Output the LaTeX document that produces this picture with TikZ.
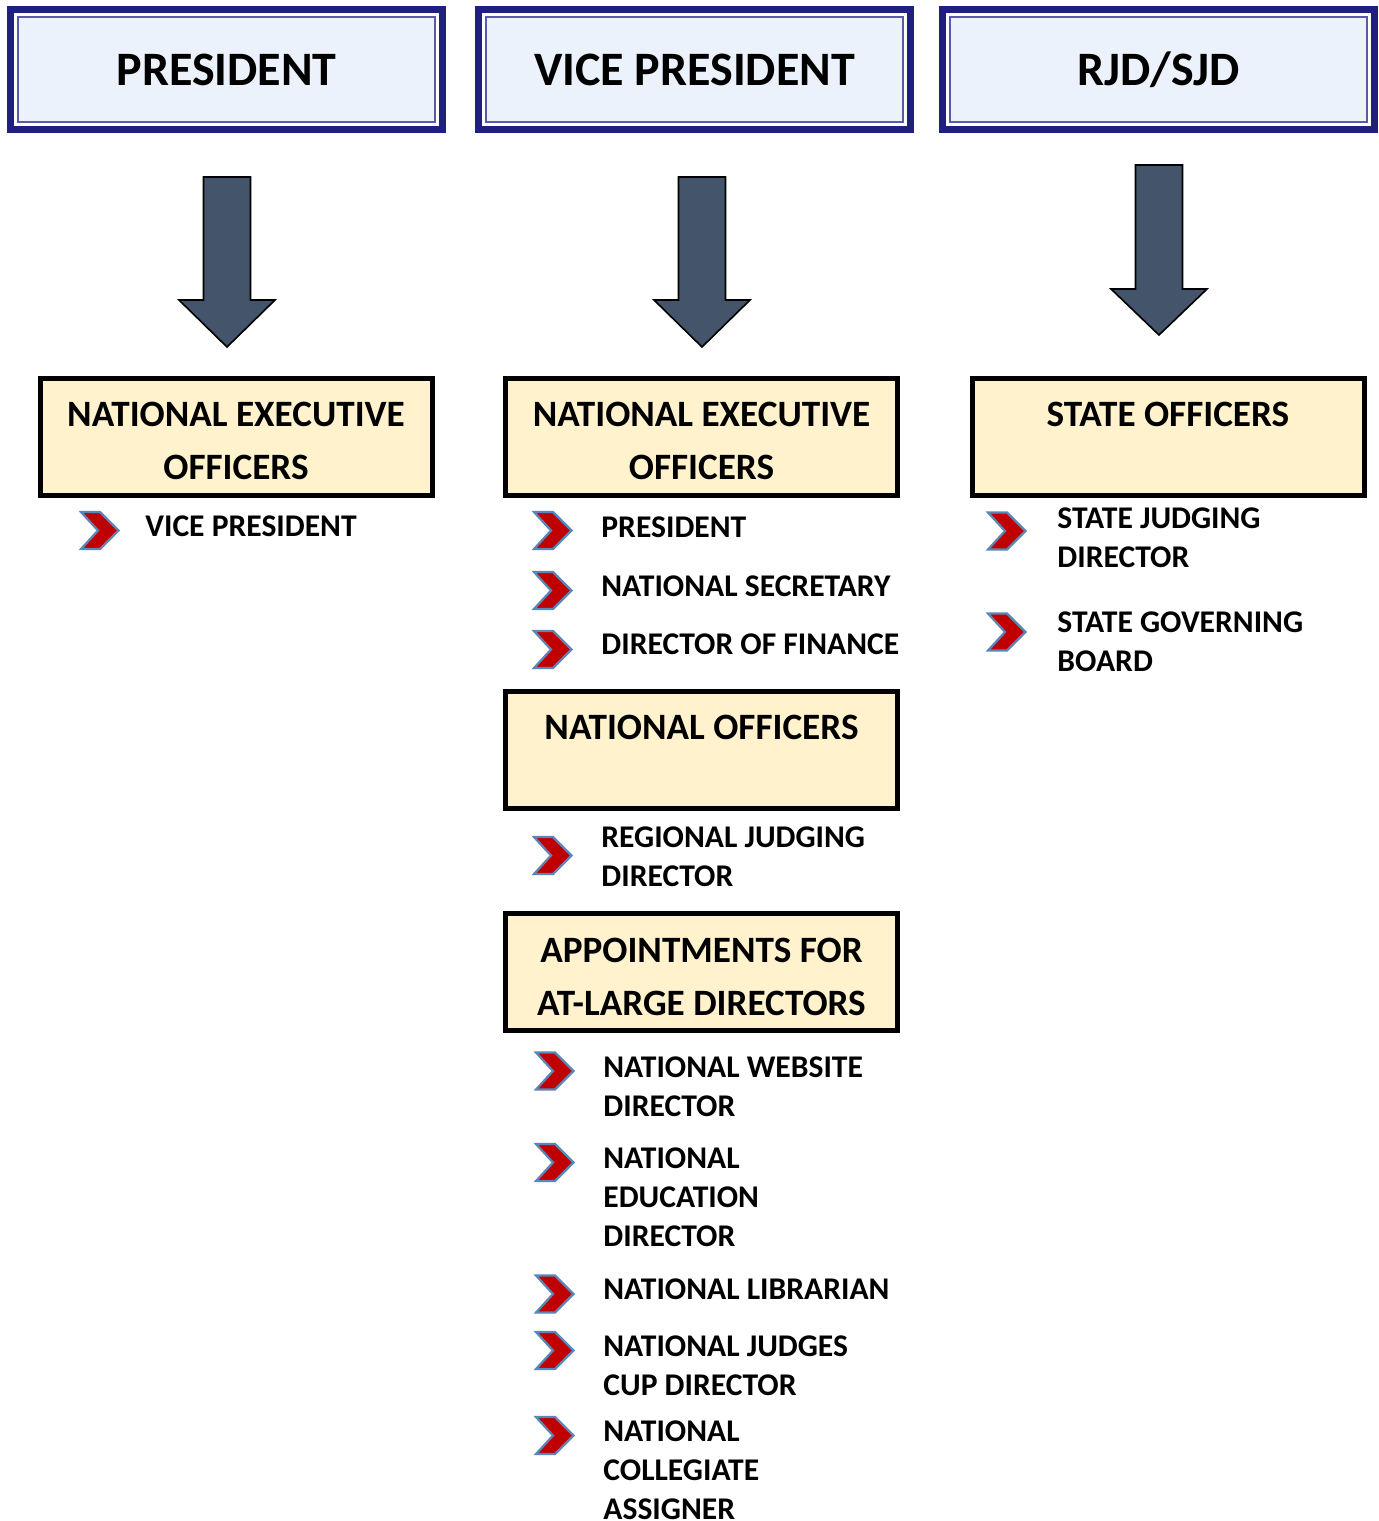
\documentclass[tikz,border=0pt]{standalone}
\usepackage{fontspec}
\setmainfont{Carlito}
\usetikzlibrary{calc}

\definecolor{navy}{HTML}{1F1F80}
\definecolor{navythin}{HTML}{5A5AA8}
\definecolor{hdrfill}{HTML}{EBF2FB}
\definecolor{boxfill}{HTML}{FFF2CC}
\definecolor{slate}{HTML}{44546A}
\definecolor{chevred}{HTML}{C00000}
\definecolor{chevblue}{HTML}{5B87B8}

% down-pointing block arrow: centre x, top, shoulder, tip
\newcommand\downblock[4]{%
  \filldraw[blockarrow] (#1-23.5,#2) -- (#1+23.5,#2) -- (#1+23.5,#3) -- (#1+48,#3)
    -- (#1,#4) -- (#1-48,#3) -- (#1-23.5,#3) -- cycle;}

\tikzset{
  hdr/.style={draw=navy, line width=3.6pt, fill=white, outer sep=0pt, inner sep=0pt,
    minimum width=216pt, minimum height=60pt,
    font=\fontsize{24}{28}\selectfont\bfseries,
    path picture={\draw[hdrline]
      ($(path picture bounding box.north west)+(7.5,7.5)$) rectangle
      ($(path picture bounding box.south east)+(-7.5,-7.5)$);}},
  hdrline/.style={draw=navythin, line width=0.7pt, fill=hdrfill},
  offbox/.style={draw=black, line width=2.5pt, fill=boxfill, outer sep=0pt, inner sep=0pt,
    minimum width=196pt, minimum height=58.5pt},
  boxtext/.style={font=\fontsize{18.6}{26.5}\selectfont\bfseries, align=center,
    inner sep=0pt, anchor=north},
  item/.style={font=\fontsize{15.8}{19.5}\selectfont\bfseries, align=left,
    inner sep=0pt, anchor=north west},
  blockarrow/.style={fill=slate, draw=black, line width=0.8pt, line join=miter},
  chevron/.pic={\filldraw[fill=chevred, draw=chevblue, line width=1.1pt, line join=miter]
    (0,-18.5) -- (19,-18.5) -- (37.5,0) -- (19,18.5) -- (0,18.5) -- (17,0) -- cycle;}
}

\begin{document}
\begin{tikzpicture}[x=0.5pt,y=-0.5pt]
\fill[white] (0,0) rectangle (1379,1521);
\useasboundingbox (0,0) rectangle (1379,1521);

% title boxes
\node[hdr] (pres) at (226.5,69.5) {PRESIDENT};
\node[hdr] (vice) at (694.5,69.5) {VICE PRESIDENT};
\node[hdr] (rjd)  at (1158.5,69.5) {RJD/SJD};

% block arrows
\downblock{227}{177}{300}{347}
\downblock{702}{177}{300}{347}
\downblock{1159}{165}{289}{335}

% officer boxes
\node[offbox] (neoA) at (236,436.5) {};
\node[offbox] (neoB) at (701.5,436.5) {};
\node[offbox] (state) at (1168,436.5) {};
\node[offbox] (natoff) at (701.5,750) {};
\node[offbox] (appt) at (701.5,972) {};

\node[boxtext] (neoAt) at (236,402.1) {NATIONAL EXECUTIVE\\OFFICERS};
\node[boxtext] (neoBt) at (701.5,402.1) {NATIONAL EXECUTIVE\\OFFICERS};
\node[boxtext] (statet) at (1168,402.1) {STATE OFFICERS};
\node[boxtext] (natofft) at (701.5,715.1) {NATIONAL OFFICERS};
\node[boxtext] (apptt) at (701.5,938.1) {APPOINTMENTS FOR\\AT-LARGE DIRECTORS};

% first column
\pic (b1) at (81,530.5) {chevron};
\node[item] (i1) at (145,514.9) {VICE PRESIDENT};

% second column
\pic (b2) at (534,530.5) {chevron};
\node[item] (i2) at (601,515.9) {PRESIDENT};
\pic (b3) at (534,590.5) {chevron};
\node[item] (i3) at (601,574.9) {NATIONAL SECRETARY};
\pic (b4) at (534,649.5) {chevron};
\node[item] (i4) at (601,632.9) {DIRECTOR OF FINANCE};
\pic (b5) at (534,855.5) {chevron};
\node[item] (i5) at (601,825.9) {REGIONAL JUDGING\\DIRECTOR};
\pic (b6) at (536,1071) {chevron};
\node[item] (i6) at (603,1055.9) {NATIONAL WEBSITE\\DIRECTOR};
\pic (b7) at (536,1162.5) {chevron};
\node[item] (i7) at (603,1146.9) {NATIONAL\\EDUCATION\\DIRECTOR};
\pic (b8) at (536,1294) {chevron};
\node[item] (i8) at (603,1277.9) {NATIONAL LIBRARIAN};
\pic (b9) at (536,1350.5) {chevron};
\node[item] (i9) at (603,1334.9) {NATIONAL JUDGES\\CUP DIRECTOR};
\pic (b10) at (536,1435.5) {chevron};
\node[item] (i10) at (603,1419.9) {NATIONAL\\COLLEGIATE\\ASSIGNER};

% third column
\pic (b11) at (988,531) {chevron};
\node[item] (i11) at (1057,507.4) {STATE JUDGING\\DIRECTOR};
\pic (b12) at (988,632) {chevron};
\node[item] (i12) at (1057,610.9) {STATE GOVERNING\\BOARD};
\end{tikzpicture}
\end{document}
